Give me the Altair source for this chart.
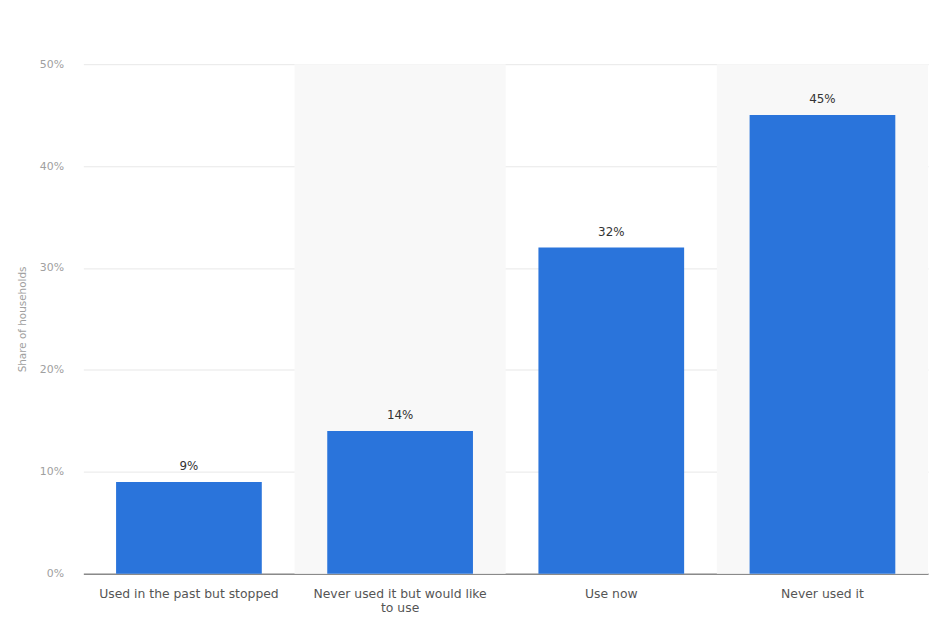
import altair as alt
import pandas as pd

categories = ["Used in the past but stopped", "Never used it but would like to use", "Use now", "Never used it"]
values = [9, 14, 32, 45]
labels = ["9%", "14%", "32%", "45%"]
shaded = [False, True, False, True]

df = pd.DataFrame({"cat": categories, "val": values, "lab": labels, "shade": shaded})
bg = df[df["shade"]].assign(top=50)

pad_inner = 0.31
FONT = "DejaVu Sans"

x = alt.X("cat:N", sort=categories, title=None,
          scale=alt.Scale(paddingInner=pad_inner, paddingOuter=pad_inner / 2),
          axis=alt.Axis(labelAngle=0, labelColor="#555555", labelFontSize=12.5, labelFont=FONT,
                        domainColor="#8a8a8a", domainWidth=1.5, ticks=False, labelPadding=14,
                        labelLimit=300, labelLineHeight=14,
                        labelExpr="datum.label == 'Never used it but would like to use' ? ['Never used it but would like', 'to use'] : datum.label"))
y = alt.Y("val:Q", title="Share of households",
          scale=alt.Scale(domain=[0, 50]),
          axis=alt.Axis(values=[0, 10, 20, 30, 40, 50], labelExpr="datum.value + '%'",
                        labelColor="#a0a0a0", labelFontSize=11, labelFont=FONT,
                        titleColor="#a0a0a0", titleFontSize=10.5, titleFont=FONT, titleFontWeight="normal",
                        titlePadding=12, labelPadding=20, domain=False, ticks=False,
                        gridColor="#e8e8e8", gridWidth=1))

band = alt.Chart(bg).mark_bar(color="#f8f8f8", width=alt.RelativeBandSize(1 / (1 - pad_inner))).encode(
    x=x, y=alt.Y("top:Q"), y2=alt.datum(0)
)

bars = alt.Chart(df).mark_bar(color="#2a74db").encode(x=x, y=y)

text = alt.Chart(df).mark_text(dy=-9, baseline="bottom", fontSize=12, color="#333333", font=FONT).encode(
    x=x, y=y, text="lab:N"
)

chart = alt.layer(band, bars, text).properties(
    width=852, height=514,
    autosize=alt.AutoSizeParams(type="none"),
    padding={"left": 76, "top": 54, "right": 5, "bottom": 45}
).configure_view(stroke=None)

chart.save("out.html", embed_options={"renderer": "svg", "actions": False})
